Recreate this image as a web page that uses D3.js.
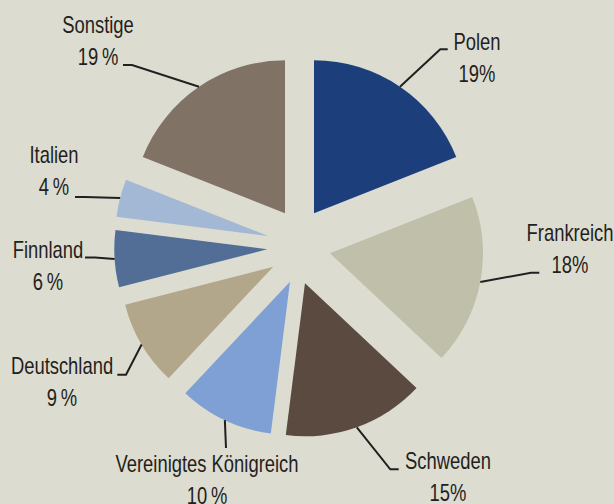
<!DOCTYPE html>
<html>
<head>
<meta charset="utf-8">
<script src="https://cdn.jsdelivr.net/npm/d3@7"></script>
<style>
    body { margin: 0; background: #dddcd1; }
    text { font-family: "Liberation Sans", Arial, sans-serif; fill: #231f20; }
</style>
</head>
<body>
<div id="chart"></div>
<script>
const categories = ["Polen", "Frankreich", "Schweden", "Vereinigtes Königreich",
    "Deutschland", "Finnland", "Italien", "Sonstige"];
const shares = [19, 18, 15, 10, 9, 6, 4, 19];
const pctLabels = ["19%", "18%", "15%", "10\u2009%", "9\u2009%", "6\u2009%", "4\u2009%", "19\u2009%"];
const colors = ["#1c3f7c", "#bfbfaa", "#5a4a40", "#7fa0d4", "#b2a68b", "#526d96", "#a3b8d4", "#807366"];

// how far each slice is pulled out of the pie (hand placed in the original)
const explode = [[14, -34.7], [30, 5.3], [5, 35.3], [-10, 33.7],
    [-26.7, 18.7], [-32.7, 1.3], [-31.7, -12], [-15, -34.7]];
// label anchor [x, y] and the leader line bends
const labelPos = [[477, 50], [570, 241], [448, 469], [207, 472],
    [62, 374], [48, 258], [54, 163], [98, 33]];
const leaderBends = [
    [[440.3, 49.3], [447.7, 49.3]],
    [[531, 272.7], [539.3, 272.7]],
    [[390.3, 469.3], [398.7, 469.3]],
    [[226, 448]],
    [[126, 374.7], [117.3, 374.7]],
    [[95, 257.5], [85, 257.5]],
    [[85, 197], [75, 197]],
    [[132, 65], [123, 65]]
];

const width = 614, height = 504,
    radius = 153,
    cx = 300, cy = 248;

const svg = d3.select("#chart")
    .append("svg")
    .attr("width", width)
    .attr("height", height);

svg.append("rect")
    .attr("width", width)
    .attr("height", height)
    .attr("fill", "#dddcd1");

const pie = d3.pie().sort(null).value(d => d);
const arcs = pie(shares);

const arc = d3.arc().innerRadius(0).outerRadius(radius);
const rim = d3.arc().innerRadius(radius).outerRadius(radius);

// slices
svg.selectAll(".slice")
    .data(arcs)
    .enter()
    .append("path")
    .attr("class", "slice")
    .attr("transform", (d, i) => `translate(${cx + explode[i][0]},${cy + explode[i][1]})`)
    .attr("d", arc)
    .attr("fill", (d, i) => colors[i]);

// leader lines from the middle of each outer arc
const line = d3.line();
svg.selectAll(".leader")
    .data(arcs)
    .enter()
    .append("path")
    .attr("class", "leader")
    .attr("d", (d, i) => {
        const c = rim.centroid(d);
        const start = [cx + explode[i][0] + c[0], cy + explode[i][1] + c[1]];
        return line([start].concat(leaderBends[i]));
    })
    .attr("fill", "none")
    .attr("stroke", "#231f20")
    .attr("stroke-width", 2);

// labels (condensed look: no narrow font installed, so squeeze horizontally)
const labels = svg.selectAll(".label")
    .data(categories)
    .enter()
    .append("g")
    .attr("class", "label")
    .attr("transform", (d, i) => `translate(${labelPos[i][0]},${labelPos[i][1]}) scale(0.8,1)`);

labels.append("text")
    .attr("text-anchor", "middle")
    .attr("font-size", 23)
    .text(d => d);

labels.append("text")
    .attr("text-anchor", "middle")
    .attr("font-size", 23)
    .attr("y", 32)
    .text((d, i) => pctLabels[i]);
</script>
</body>
</html>
